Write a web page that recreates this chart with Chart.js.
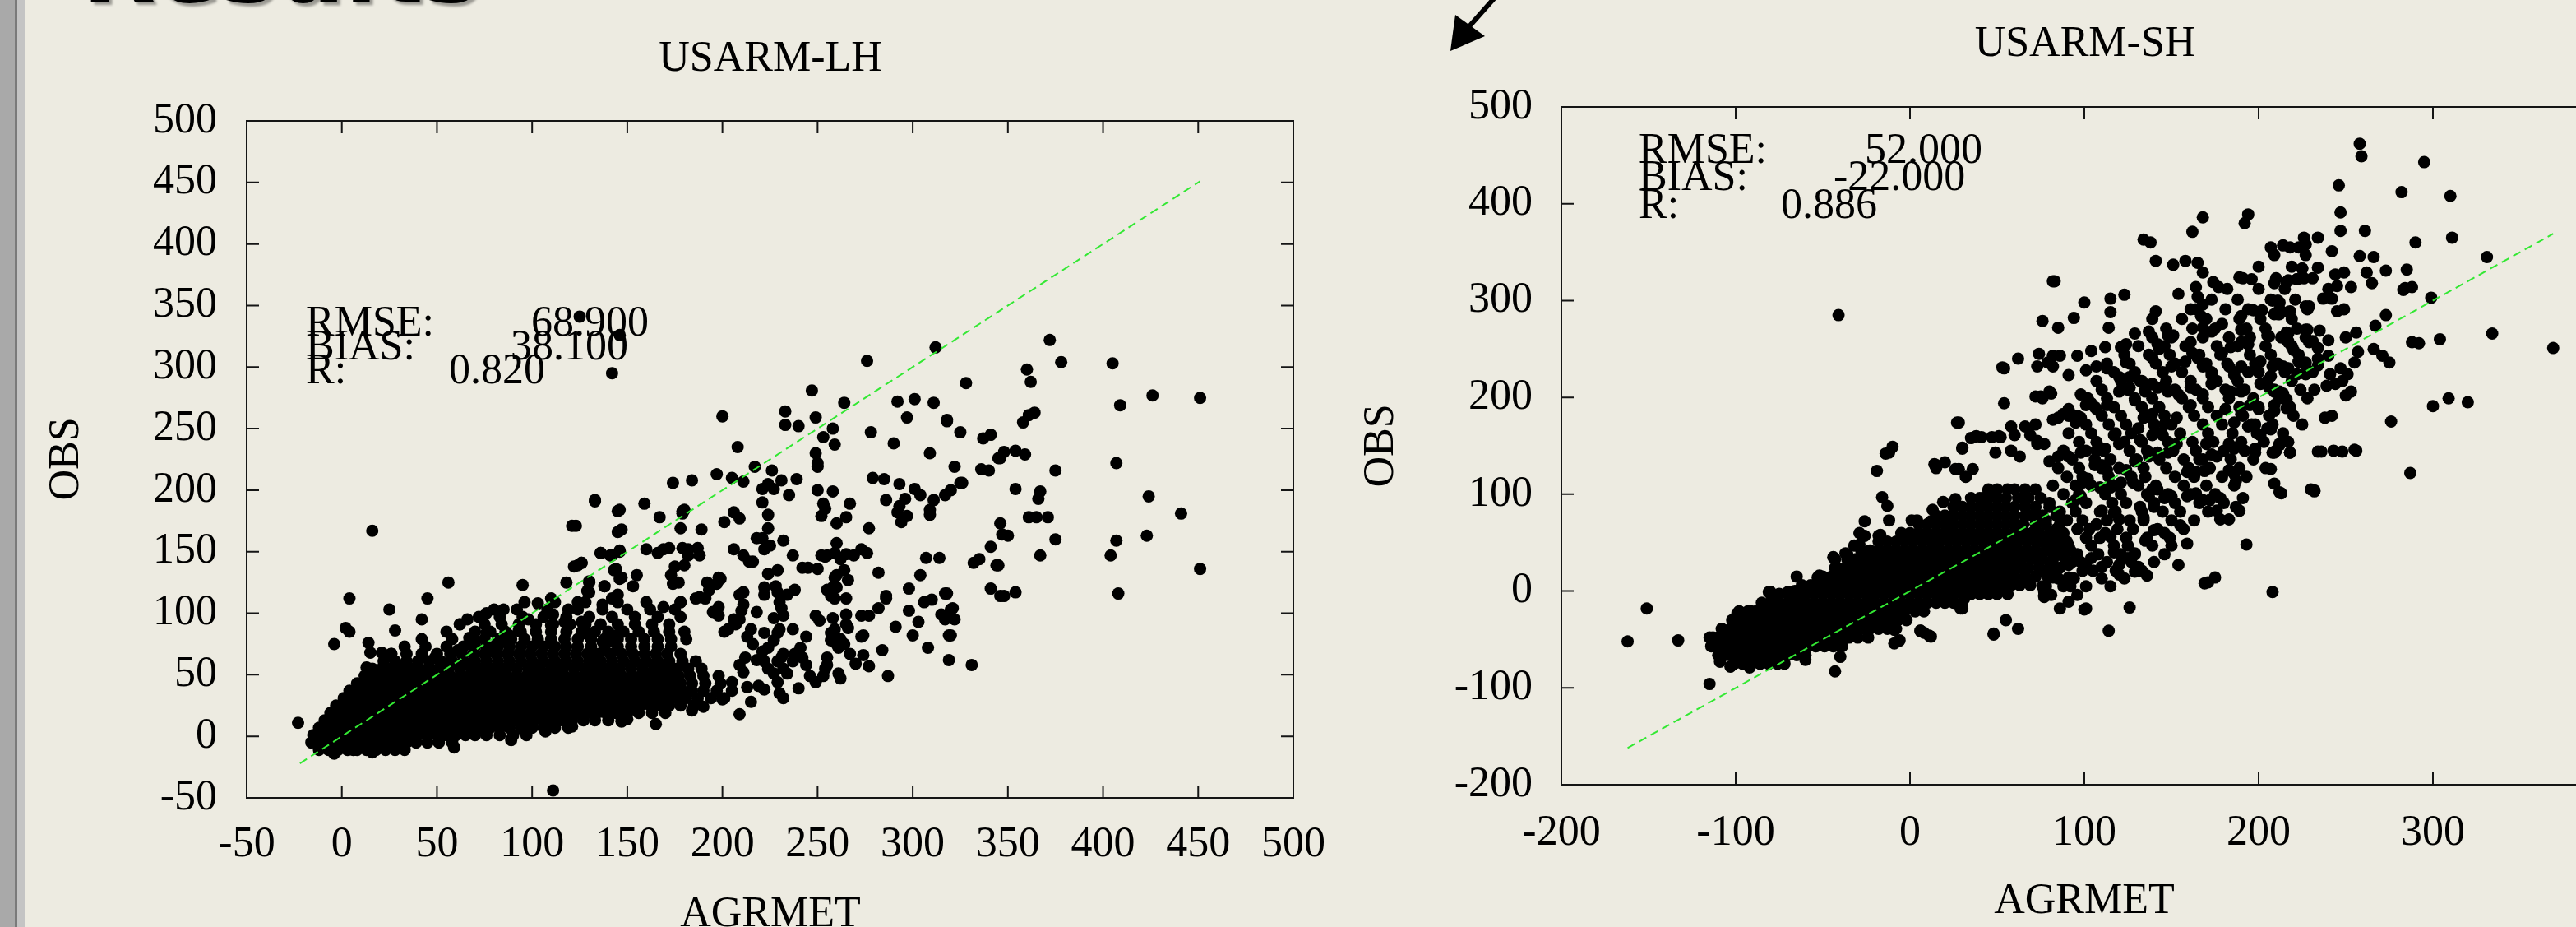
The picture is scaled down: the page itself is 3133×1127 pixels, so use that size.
<!DOCTYPE html>
<html>
<head>
<meta charset="utf-8">
<script src="https://cdn.jsdelivr.net/npm/chart.js@4.4.1/dist/chart.umd.min.js"></script>
<style>
html,body{margin:0;padding:0;width:3133px;height:1127px;overflow:hidden;background:#edebe1;}
.bar{position:absolute;top:0;height:1127px;}
#results{position:absolute;left:100px;top:-96px;font:bold 116px "DejaVu Sans";line-height:116px;color:#000;white-space:nowrap;text-shadow:4px 4px 3px rgba(0,0,0,0.35);}
#w1{position:absolute;left:0;top:0;width:1640px;height:1127px;}
#w2{position:absolute;left:1640px;top:0;width:1600px;height:1127px;}
svg{position:absolute;left:0;top:0;}
</style>
</head>
<body>
<div class="bar" style="left:0;width:18px;background:#a9a9a9"></div>
<div class="bar" style="left:18px;width:3px;background:#7a7a7a"></div>
<div class="bar" style="left:21px;width:9px;background:#c4c4c4"></div>
<div id="results">Results</div>
<svg width="3133" height="1127">
  <line x1="1819" y1="-4" x2="1780" y2="40" stroke="#000" stroke-width="6"/>
  <polygon points="1770,18 1806,44 1764,62" fill="#000"/>
</svg>
<div id="w1"><canvas id="c1" width="1640" height="1127"></canvas></div>
<div id="w2"><canvas id="c2" width="1600" height="1127"></canvas></div>
<script>
// ---------------- DATA: USARM-LH ----------------
const lhTitle = 'USARM-LH';
const lhXTicks = {min: -50, max: 500, step: 50};
const lhYTicks = {min: -50, max: 500, step: 50};
const lhStats = [['RMSE:', '68.900'], ['BIAS:', '38.100'], ['R:', '0.820']];
const lhLine = [-22, 451];
// dense core, read as rows: [OBS, [AGRMET values]]
const lhRows = [
 [-11, [-12,-7,-2,3,8,13,18,23,28,33]],
 [-5, [-16,-11,-6,-1,4,9,14,19,24,29,34,39,45,51,58]],
 [1, [-15,-10,-5,0,5,10,15,20,25,30,35,40,45,50,55,60,65,70,76,83,90,97]],
 [7, [-12,-7,-2,3,8,13,18,23,28,33,38,43,48,53,58,63,68,73,78,83,88,94,100,106,112,119]],
 [13, [-9,-4,1,6,11,16,21,26,31,36,41,46,51,56,61,66,71,76,81,86,91,96,101,106,111,116,121,127,133,140,147]],
 [19, [-6,-1,4,9,14,19,24,29,34,39,44,49,54,59,64,69,74,79,84,89,94,99,104,109,114,119,124,129,134,139,144,150,156,163,170]],
 [25, [-3,2,7,12,17,22,27,32,37,42,47,52,57,62,67,72,77,82,87,92,97,102,107,112,117,122,127,132,137,142,147,152,157,162,167,172,178,185]],
 [31, [1,6,11,16,21,26,31,36,41,46,51,56,61,66,71,76,81,86,91,96,101,106,111,116,121,126,131,136,141,146,151,156,161,166,171,176,181,187,194,201]],
 [37, [4,9,14,19,24,29,34,39,44,49,54,59,64,69,74,79,84,89,94,99,104,109,114,119,124,129,134,139,144,149,154,159,164,169,174,179,184,190,197,205]],
 [43, [8,13,18,23,28,33,38,43,48,53,58,63,68,73,78,83,88,93,98,103,108,113,118,123,128,133,138,143,148,153,158,163,168,173,178,184,191,199]],
 [49, [12,17,22,27,32,37,42,47,52,57,62,67,72,77,82,87,92,97,102,107,112,117,122,127,132,137,142,147,152,157,162,167,172,177,183,190,198]],
 [55, [16,21,26,31,36,41,46,51,56,62,68,74,80,86,92,98,104,110,116,122,128,134,140,146,152,158,164,170,176,182,189]],
 [61, [22,28,34,40,46,52,58,64,70,76,82,88,94,100,106,112,118,124,130,136,142,148,154,160,166,172,179,186]],
 [67, [26,34,42,50,57,63,69,75,81,87,93,99,105,111,117,123,129,135,141,147,153,159,165,171,178]],
 [73, [33,44,55,64,70,76,82,88,94,100,106,112,118,124,131,138,145,152,159,166,173]],
 [79, [42,58,68,75,82,89,96,103,110,117,124,131,138,145,152,159,166,173,181]],
 [85, [55,70,78,86,94,102,110,118,126,133,140,148,156,164,172,180]],
 [91, [62,75,84,93,102,111,120,128,136,145,154,163,172]],
 [97, [72,83,95,106,118,130,142,154,166,178]],
 [103, [80,92,108,124,137,150,162,175]],
 [109, [96,112,128,145,160,178]]
];
// scattered points: [AGRMET, OBS]
const lhPoints = [
 [-23,11],[16,167],[133,191],[145,183],[121,171],[145,166],[136,149],[141,147],[146,151],[122,138],[126,141],[143,135],[118,125],[95,123],[130,126],[130,117],[138,122],[146,128],[56,125],[4,112],[45,112],[25,103],[42,95],[85,103],[76,100],[2,88],[4,85],[-4,75],[28,86],[14,76],[15,68],[21,68],[26,67],[13,56],[32,57],[40,53],[49,64],[62,91],[66,95],[67,80],[70,77],[76,84],[61,70],[76,68],[80,73],[85,77],[88,82],[93,86],[98,95],[103,108],[110,112],[111,99],[110,90],[117,93],[119,103],[124,109],[126,93],[129,83],[137,77],[142,77],[144,82],[140,50],[144,55],[130,68],[134,64],[130,55],[126,48],[120,38],[121,30],[131,21],[137,20],[143,20],[147,12],[121,8],[107,9],[107,4],[96,4],[89,-3],[69,2],[59,-9],[16,-13],[-4,-14],[6,-11],[-15,-3],[-12,-8],[-10,5],[26,-8],[32,-5],[111,-44],
 [142,295],[125,341],[146,326],[276,305],[312,316],[247,281],[328,287],[264,271],[233,264],[249,259],[233,253],[240,252],[292,272],[301,274],[311,271],[297,259],[318,257],[325,247],[278,247],[258,250],[253,243],[259,237],[290,238],[309,230],[337,242],[341,245],[345,226],[322,219],[336,217],[340,216],[249,230],[250,222],[250,219],[200,260],[208,235],[217,219],[226,216],[197,213],[205,210],[211,207],[174,206],[184,208],[221,201],[224,205],[227,201],[231,208],[239,209],[235,196],[250,200],[258,199],[221,190],[224,180],[253,189],[254,185],[252,179],[267,189],[265,178],[260,173],[279,210],[285,209],[293,205],[286,192],[296,193],[293,187],[292,182],[297,179],[294,174],[301,201],[304,196],[311,192],[309,184],[309,180],[317,196],[320,200],[326,206],[346,173],[347,164],[277,169],[341,154],[332,141],[335,144],[344,139],[307,145],[314,145],[304,131],[341,120],[346,114],[298,120],[317,116],[306,109],[310,111],[298,102],[303,93],[315,99],[317,95],[321,104],[322,95],[319,82],[300,82],[308,72],[319,62],[331,58],[291,89],[287,49],[284,70],[286,114],[286,112],[282,133],[282,104],[277,98],[273,98],[274,82],[273,81],[277,57],[274,66],[270,59],[267,67],[264,75],[262,79],[257,84],[259,87],[262,47],[261,51],[265,91],[266,88],[265,99],[258,96],[259,112],[257,114],[265,112],[255,119],[258,121],[260,121],[260,131],[259,129],[264,135],[266,127],[255,147],[259,149],[262,144],[265,148],[269,147],[273,152],[276,149],[254,146],[252,147],[260,157],[250,136],[245,137],[242,137],[237,147],[232,159],[224,132],[229,135],[222,121],[222,115],[228,122],[229,117],[238,119],[234,115],[230,109],[231,104],[232,98],[227,96],[237,87],[244,81],[249,98],[251,94],[257,78],[260,75],[261,72],[255,64],[254,55],[255,58],[253,49],[246,49],[249,44],[240,39],[244,58],[241,72],[238,67],[237,61],[242,64],[232,67],[231,64],[229,61],[232,55],[234,51],[229,44],[230,35],[232,31],[224,55],[227,51],[218,62],[222,61],[219,41],[212,64],[209,58],[211,52],[215,87],[213,81],[216,75],[221,69],[224,72],[227,78],[230,87],[229,84],[222,84],[218,101],[210,102],[211,107],[209,115],[211,117],[209,95],[206,95],[207,91],[201,85],[203,87],[198,98],[195,101],[198,105],[191,112],[193,119],[197,124],[199,128],[206,152],[211,147],[214,142],[216,142],[206,182],[209,177],[201,174],[218,161],[221,161],[224,169],[222,152],[225,155],[189,168],[178,169],[179,181],[180,184],[167,178],[159,189],[146,184],[146,167],[147,168],[133,192],[123,171],[126,141],[124,139],[136,149],[142,147],[146,150],[144,136],[147,129],[160,152],[166,149],[169,152],[172,153],[179,153],[182,152],[187,153],[188,147],[182,147],[180,139],[175,138],[173,131],[174,124],[177,125],[155,131],[153,122],[138,122],[130,125],[129,118],[192,125],[198,129],[188,113],[186,112],[178,109],[169,105],[145,115],[142,112],[137,107],[150,14],[165,10],[184,21],[209,18],[190,24],[200,30],[215,28],[222,38],[205,44],[213,40],
 [372,322],[378,304],[405,303],[360,298],[362,288],[426,277],[451,275],[409,269],[364,263],[361,261],[358,255],[318,256],[348,231],[346,226],[354,232],[359,229],[375,216],[407,222],[325,206],[354,201],[367,199],[366,193],[424,195],[441,181],[361,178],[365,178],[371,178],[350,163],[375,160],[407,159],[423,163],[367,147],[404,147],[345,139],[451,136],[348,114],[354,117],[408,116],[318,116],[320,103],[317,96],[320,82],[179,183]
];

// ---------------- DATA: USARM-SH ----------------
const shTitle = 'USARM-SH';
const shXTicks = {min: -200, max: 400, step: 100};
const shYTicks = {min: -200, max: 500, step: 100};
const shStats = [['RMSE:', '52.000'], ['BIAS:', '-22.000'], ['R:', '0.886']];
const shLine = [-162, 369];
const shRows = [
 [-75, [-101,-96,-91,-86,-81,-76,-72]],
 [-66, [-110,-105,-100,-95,-90,-85,-80,-75,-70,-65,-60]],
 [-57, [-114,-109,-104,-99,-94,-89,-84,-79,-74,-69,-64,-59,-54,-49,-44,-39]],
 [-48, [-115,-110,-105,-100,-95,-90,-85,-80,-75,-70,-65,-60,-55,-50,-45,-40,-35,-30,-24]],
 [-39, [-108,-103,-98,-93,-88,-83,-78,-73,-68,-63,-58,-53,-48,-43,-38,-33,-28,-23,-18,-13,-8]],
 [-30, [-102,-97,-92,-87,-82,-77,-72,-67,-62,-57,-52,-47,-42,-37,-32,-27,-22,-17,-12,-7,-2]],
 [-21, [-98,-93,-88,-83,-78,-73,-68,-63,-58,-53,-48,-43,-38,-33,-28,-23,-18,-13,-8,-3,3,8]],
 [-12, [-85,-80,-75,-70,-65,-60,-55,-50,-45,-40,-35,-30,-25,-20,-15,-10,-5,0,5,10,15,20,25,30]],
 [-3, [-80,-75,-70,-65,-60,-55,-50,-45,-40,-35,-30,-25,-20,-15,-10,-5,0,5,10,15,20,25,30,35,40,45,50,56]],
 [6, [-62,-57,-52,-47,-42,-37,-32,-27,-22,-17,-12,-7,-2,3,8,13,18,23,28,33,38,43,48,53,58,63,69]],
 [15, [-50,-45,-40,-35,-30,-25,-20,-15,-10,-5,0,5,10,15,20,25,30,35,40,45,50,55,60,66,72,79]],
 [24, [-42,-37,-32,-27,-22,-17,-12,-7,-2,3,8,13,18,23,28,33,38,43,48,53,58,63,68,74,80,86]],
 [33, [-36,-31,-26,-21,-16,-11,-6,-1,4,9,14,19,24,29,34,39,44,49,54,59,64,70,76,82,89]],
 [42, [-28,-23,-18,-13,-8,-3,2,7,12,17,22,27,32,37,42,47,52,57,62,67,72,78,84,92]],
 [51, [-18,-13,-8,-3,2,7,12,17,22,27,32,37,42,47,52,57,62,67,72,76,82,90]],
 [60, [-5,0,5,10,15,20,25,30,35,40,45,50,55,60,65,70,74,80,88]],
 [69, [5,10,15,20,25,30,35,40,45,50,55,60,65,72,78,86]],
 [78, [15,20,25,30,35,40,45,50,55,60,66,70,76,84]],
 [87, [25,30,35,40,45,50,55,60,66,72,80]],
 [96, [35,40,45,50,55,62,68,75]],
 [105, [45,50,56,60,66,72]]
];
const shCloudRows = [
 [-4, [81,96]],
 [5, [78,92,101,115]],
 [13, [85,94,110,123]],
 [21, [76,84,99,105,118,133]],
 [30, [81,93,98,113,127,140]],
 [38, [75,88,96,108,121,129,146]],
 [47, [83,91,104,117,125,139]],
 [55, [77,86,101,109,124,136,149]],
 [64, [84,96,103,119,128,142,157]],
 [73, [78,90,99,113,126,134,150,163]],
 [82, [86,95,109,118,133,145,155,171]],
 [91, [80,93,101,116,124,140,152,166,180]],
 [100, [88,97,112,121,136,148,161,175]],
 [109, [82,95,104,118,131,141,157,170,186]],
 [118, [90,99,114,127,135,152,163,179,193]],
 [127, [85,97,110,120,134,147,160,172,189,204]],
 [136, [93,106,115,130,143,157,166,184,197]],
 [145, [88,101,111,126,136,151,164,180,192,210]],
 [154, [97,107,123,133,148,162,174,190,203,217]],
 [163, [91,104,118,127,144,155,171,185,199,214]],
 [172, [101,114,124,140,150,168,179,196,208,225]],
 [181, [96,110,121,137,146,163,176,191,206,220]],
 [190, [106,117,133,143,160,171,189,200,218]],
 [199, [102,113,129,139,156,168,183,197,212,228]],
 [208, [110,125,135,152,164,181,192,209,224]],
 [217, [107,121,133,147,161,176,188,205,219]],
 [226, [117,129,145,156,173,186,200,215,231]],
 [235, [113,126,141,152,170,182,198,211,226]],
 [244, [123,137,149,166,178,195,207,223]],
 [253, [131,146,158,176,188,204,219]],
 [262, [139,150,168,183,195,213,227]],
 [271, [147,162,175,193,204,222]],
 [281, [156,170,189,201,219]],
 [291, [164,181,194,212,228]],
 [301, [173,188,207,221]],
 [312, [182,200,215]],
 [323, [191,210,226]],
 [335, [200,219]],
 [347, [209,227]]
];
const shPoints = [
 [-162,-52],[-151,-18],[-133,-51],[-115,-96],[-43,-83],[-40,-68],[28,174],[35,158],[30,148],[-10,149],[-14,142],[-19,124],[-16,97],[-13,88],[-12,73],[-26,72],[-29,60],[-26,57],[-17,58],[15,127],[20,133],[26,126],[32,118],[26,95],[19,92],[13,84],[1,73],[4,73],[1,53],[8,57],[12,72],[-37,39],[-43,33],[-43,24],[-32,47],[-29,48],[-53,14],[-65,15],[-81,-1],[-76,-6],[-68,-4],[-66,0],[-99,-23],[-92,-23],[-88,-21],[-98,-35],[-113,-48],[-103,-48],[-112,-56],[-109,-73],[-103,-78],[-92,-79],[-81,-73],[-65,-66],[-60,-71],[-9,-54],[-6,-51],[6,-41],[12,-47],[30,-18],[20,-8],[31,-8],
 [-12,143],[-18,57],[-36,38],[-44,35],[-52,16],[27,174],[14,131],[38,160],[51,160],[36,126],[45,104],[42,96],[53,231],[54,194],[62,240],[74,245],[79,236],[86,243],[83,320],[94,282],[100,298],[115,302],[115,288],[114,272],[123,306],[75,201],[81,204],[60,161],[73,155],[-41,285],[-98,-21],[-91,-21],[-80,-1],[-70,-1],[-7,11],[-9,-40],[-7,-52],[8,-43],[11,-46],[48,-44],[55,-30],[62,-39],[77,-6],[77,-1],[86,-18],[100,-19],[114,-41],[126,-17],[171,9],[175,14],[193,48],[208,-1],
 [258,462],[259,449],[295,443],[246,419],[282,412],[310,408],[247,391],[247,372],[261,372],[311,365],[290,360],[331,345],[334,266],[369,251],[304,260],[292,256],[299,303],[320,195],[309,199],[300,191],[276,175],[287,122],[256,145],[243,145],[232,103],[213,101],
 [234,365],[226,365],[227,358],[223,355],[218,355],[214,357],[207,355],[242,351],[258,346],[266,345],[273,331],[262,329],[285,332],[284,313],[288,314],[283,311],[265,318],[253,314],[249,329],[244,327],[245,315],[234,334],[225,333],[231,323],[222,322],[217,321],[209,318],[240,312],[237,302],[242,302],[229,294],[218,289],[212,286],[209,286],[211,300],[208,300],[245,289],[249,291],[273,285],[267,274],[256,267],[250,262],[240,259],[228,270],[235,269],[231,258],[234,251],[216,267],[217,258],[220,249],[206,263],[257,247],[266,250],[271,243],[275,236],[255,236],[240,243],[234,240],[234,233],[227,236],[223,237],[222,224],[227,224],[209,234],[216,230],[207,222],[247,230],[251,224],[248,217],[244,214],[239,212],[241,224],[253,206],[250,202],[232,208],[209,206],[214,204],[216,198],[209,186],[216,189],[207,167],[238,179],[242,181],[288,257],[212,151],[209,143],[218,143],[234,144],[236,144],[248,144],[255,146],[207,126],[209,111],[212,102],[232,104],
 [168,386],[194,389],[192,380],[162,371],[134,363],[138,360],[141,341],[151,337],[158,341],[165,339],[168,329],[174,319],[177,314],[164,314],[165,304],[154,307],[161,291],[168,296],[167,284],[168,272],[173,268],[179,276],[141,289],[139,281],[82,320],[76,279],[85,272],[190,284],[190,270],[189,324],[196,322],[225,333],[216,319],[222,322],[212,298],[197,290],[202,290],[211,286],[217,288],[227,294],[227,270],[229,257],[217,266],[217,257],[205,264],[190,257],[194,255],[184,252],[179,246],[183,232],[186,223],[190,232],[194,226],[201,237],[199,228],[208,232],[214,232],[217,230],[223,237],[228,228],[161,257],[162,246],[165,241],[158,237],[168,232],[173,223],[151,264],[148,264],[142,255],[139,241],[143,250],[137,268],[150,232],[124,236],[129,266],[124,255],[121,252],[112,252],[104,248],[96,243],[101,228],[107,232],[113,230],[120,221],[126,221],[132,217],[139,214],[145,211],[91,223],[73,232],[82,243],[82,232],[54,230],[72,201],[76,199],[80,206],[98,203],[101,192],[104,194],[107,188],[113,192],[120,206],[126,210],[85,179],[91,188],[98,179],[95,174],[129,197],[135,206],[142,210],[148,206],[154,203],[161,210],[168,203],[173,214],[161,192],[153,179],[146,172],[139,183],[134,179],[131,168],[184,206],[190,206],[181,188],[186,174],[190,183],[195,192],[200,188],[201,214],[206,210],[212,206],[209,192],[217,192],[194,170],[198,172],[201,161],[198,147],[198,143],[205,168],[208,143],[212,152],[218,143],[230,105],[191,96],[183,152],[186,147],[189,150],[183,125],[186,121],[187,114],[187,87],[189,83],[178,96],[176,83],[178,74],[183,74],[170,152],[173,141],[176,139],[168,136],[159,123],[164,123],[169,124],[159,98],[164,101],[168,94],[172,94],[150,98],[146,96],[142,105],[139,105],[137,98],[140,87],[132,87],[134,76],[155,68],[140,63],[146,60],[150,47],[159,49],[154,27],[169,8],[135,52],[129,39],[125,34],[129,20],[131,25],[136,16],[120,27],[120,17],[117,40],[104,34],[101,25],[110,25],[101,-18],[91,-11],[48,-45],[6,-41],[29,-18],[15,130],[28,126],[37,159],[41,159],[47,159],[52,159],[30,147],[49,143],[58,170],[66,170],[72,172],[58,145],[63,139],[82,177],[88,183],[91,181],[69,161],[73,152],[77,152],[80,134],[85,139],[91,139],[98,143],[107,145],[112,147],[117,161],[120,152],[106,130],[110,130],[113,125],[102,116],[99,112],[98,98],[95,94],[109,107],[115,107],[121,112],[128,112],[124,125],[129,134],[137,139],[142,143],[148,143],[153,152],[145,161],[139,161],[132,156],[110,83],[117,81],[120,74],[107,69],[112,60],[115,56],[82,60],[80,54],[85,45],[88,36],[91,27],[91,14],[88,5],[82,14],[76,5],[77,-4]
];

// ---------------- LAYOUT / STYLE ----------------
const FONT = 'Liberation Serif';
const FS = 52;
Chart.defaults.font.family = FONT;
Chart.defaults.color = '#000';

const rowsToPts = rows => rows.flatMap(([y, xs]) => xs.map(x => ({x, y})));
const pairsToPts = arr => arr.map(([x, y]) => ({x, y}));

function framePlugin(texts, offX) {
  return {
    id: 'gnuFrame',
    beforeDatasetsDraw(chart) {
      const {ctx, chartArea: a, scales: {x, y}} = chart;
      ctx.save();
      ctx.strokeStyle = '#151515';
      ctx.lineWidth = 2;
      ctx.strokeRect(a.left, a.top, a.right - a.left, a.bottom - a.top);
      ctx.beginPath();
      const L = 15;
      x.ticks.forEach(t => {
        const p = x.getPixelForValue(t.value);
        if (p <= a.left + 1 || p >= a.right - 1) return;
        ctx.moveTo(p, a.bottom); ctx.lineTo(p, a.bottom - L);
        ctx.moveTo(p, a.top); ctx.lineTo(p, a.top + L);
      });
      y.ticks.forEach(t => {
        const p = y.getPixelForValue(t.value);
        if (p <= a.top + 1 || p >= a.bottom - 1) return;
        ctx.moveTo(a.left, p); ctx.lineTo(a.left + L, p);
        ctx.moveTo(a.right, p); ctx.lineTo(a.right - L, p);
      });
      ctx.stroke();
      ctx.restore();
    },
    afterDraw(chart) {
      const ctx = chart.ctx;
      ctx.save();
      ctx.fillStyle = '#000';
      ctx.font = FS + 'px "' + FONT + '"';
      ctx.textBaseline = 'alphabetic';
      texts.forEach(t => {
        ctx.save();
        ctx.translate(t.x - offX, t.y);
        if (t.rot) ctx.rotate(-Math.PI / 2);
        ctx.textAlign = t.align || 'left';
        ctx.fillText(t.t, 0, 0);
        ctx.restore();
      });
      ctx.restore();
    }
  };
}

function makeChart(id, cfg) {
  const scatter = {
    label: 'pts', data: cfg.points, order: 1,
    backgroundColor: '#000', borderWidth: 0, pointRadius: 7.5, pointHoverRadius: 7.5
  };
  const line = {
    label: '1:1', data: [{x: cfg.line[0], y: cfg.line[0]}, {x: cfg.line[1], y: cfg.line[1]}],
    showLine: true, order: 0, borderColor: '#33e833', borderWidth: 2, borderDash: [10, 6],
    pointRadius: 0, fill: false
  };
  const tickFont = {family: FONT, size: FS};
  return new Chart(document.getElementById(id), {
    type: 'scatter',
    data: {datasets: [line, scatter]},
    options: {
      responsive: false, animation: false, events: [],
      layout: {padding: {top: cfg.top, right: cfg.right, left: 0, bottom: 0}},
      plugins: {legend: {display: false}, tooltip: {enabled: false}, title: {display: false}},
      scales: {
        x: {
          type: 'linear', min: cfg.xt.min, max: cfg.xt.max,
          ticks: {stepSize: cfg.xt.step, font: tickFont, color: '#000', padding: cfg.xPad, maxRotation: 0, autoSkip: false},
          grid: {display: false, drawTicks: false}, border: {display: false},
          afterFit(s) { s.height = cfg.xH; s.paddingLeft = 0; s.paddingRight = 0; }
        },
        y: {
          type: 'linear', min: cfg.yt.min, max: cfg.yt.max,
          ticks: {stepSize: cfg.yt.step, font: tickFont, color: '#000', padding: cfg.yPad, autoSkip: false},
          grid: {display: false, drawTicks: false}, border: {display: false},
          afterFit(s) { s.width = cfg.yW; s.paddingTop = 0; s.paddingBottom = 0; }
        }
      }
    },
    plugins: [framePlugin(cfg.texts, cfg.offX)]
  });
}

const lhAll = rowsToPts(lhRows).concat(pairsToPts(lhPoints));
const shAll = rowsToPts(shRows).concat(rowsToPts(shCloudRows), pairsToPts(shPoints));

makeChart('c1', {
  points: lhAll, line: lhLine, xt: lhXTicks, yt: lhYTicks,
  top: 147, right: 67, xH: 157, yW: 300, xPad: 26, yPad: 36, offX: 0,
  texts: [
    {t: lhTitle, x: 937, y: 86, align: 'center'},
    {t: 'OBS', x: 95, y: 558, align: 'center', rot: true},
    {t: 'AGRMET', x: 937, y: 1126, align: 'center'},
    {t: lhStats[0][0], x: 372, y: 408}, {t: lhStats[0][1], x: 646, y: 408},
    {t: lhStats[1][0], x: 372, y: 437}, {t: lhStats[1][1], x: 621, y: 437},
    {t: lhStats[2][0], x: 372, y: 466}, {t: lhStats[2][1], x: 546, y: 466}
  ]
});

makeChart('c2', {
  points: shAll, line: shLine, xt: shXTicks, yt: shYTicks,
  top: 130, right: 69, xH: 173, yW: 259, xPad: 28, yPad: 35, offX: 1640,
  texts: [
    {t: shTitle, x: 2536, y: 68, align: 'center'},
    {t: 'OBS', x: 1694, y: 542, align: 'center', rot: true},
    {t: 'AGRMET', x: 2535, y: 1110, align: 'center'},
    {t: shStats[0][0], x: 1993, y: 198}, {t: shStats[0][1], x: 2268, y: 198},
    {t: shStats[1][0], x: 1993, y: 231}, {t: shStats[1][1], x: 2230, y: 231},
    {t: shStats[2][0], x: 1993, y: 265}, {t: shStats[2][1], x: 2166, y: 265}
  ]
});
</script>
</body>
</html>
